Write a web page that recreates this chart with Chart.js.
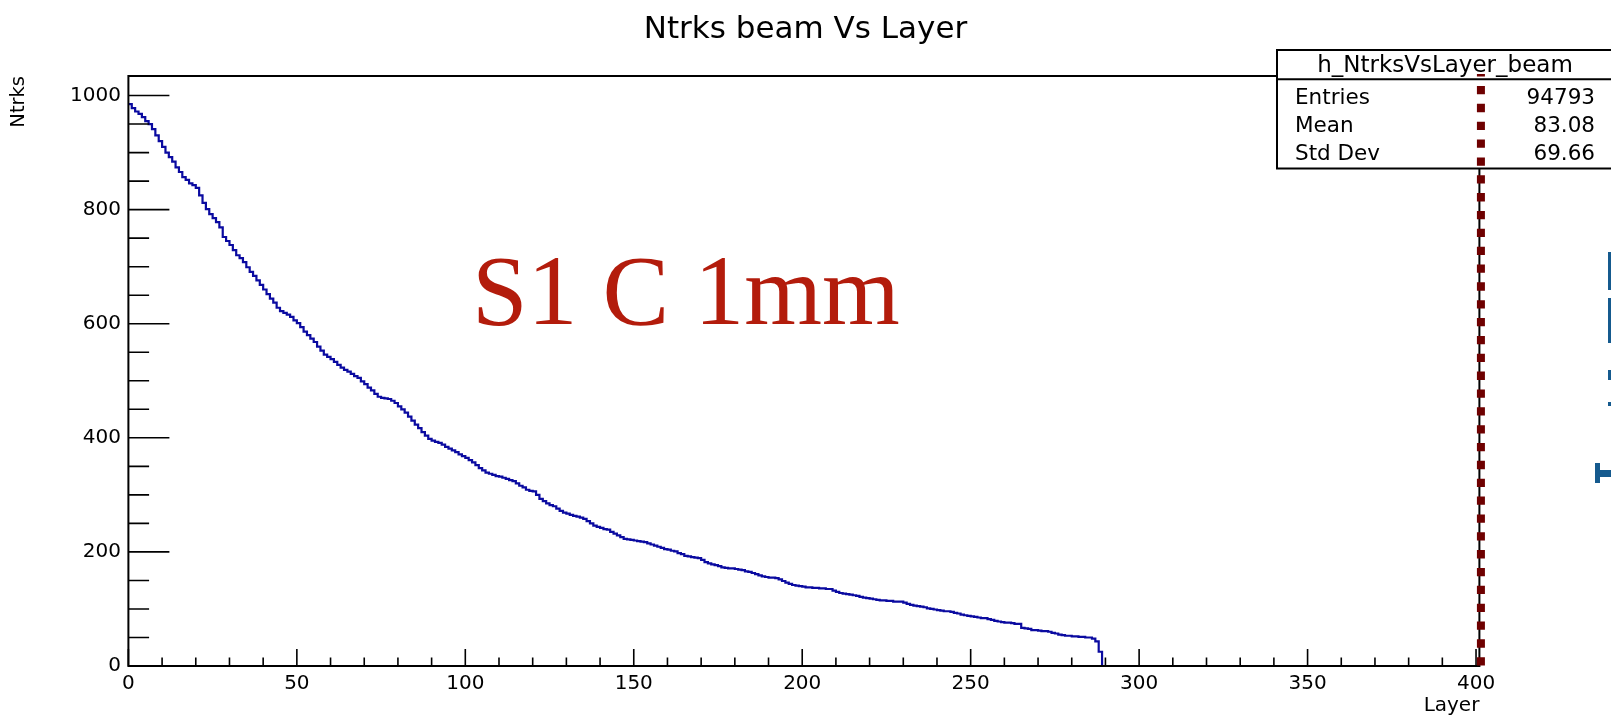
<!DOCTYPE html>
<html><head><meta charset="utf-8">
<script src="https://cdn.jsdelivr.net/npm/chart.js@4.4.0/dist/chart.umd.min.js"></script>
<style>html,body{margin:0;padding:0;background:#fff;} canvas{display:block;}</style>
</head><body>
<canvas id="c" width="1611" height="720"></canvas>
<script>
// ---- data ----
const chartTitle = 'Ntrks beam Vs Layer';
const xTitle = 'Layer';
const yTitle = 'Ntrks';
const layerRange = [0, 401];
const ntrksRange = [0, 1034.25];
const xTickValues = [0, 50, 100, 150, 200, 250, 300, 350, 400];
const yTickValues = [0, 200, 400, 600, 800, 1000];
const xMinorStep = 10, yMinorStep = 50;
// Ntrks per layer, layers 0..288 (layers 289..400 are empty)
const ntrks = [
 985,978,972,968,962,955,950,941,930,920,
 910,900,892,884,874,866,857,852,846,843,
 838,825,812,801,792,785,778,769,752,745,
 738,729,720,715,708,699,691,684,676,668,
 660,652,644,637,628,622,619,616,612,606,
 601,594,586,580,574,568,560,553,546,542,
 538,533,528,523,519,516,512,508,505,499,
 494,488,483,477,472,470,469,468,465,461,
 455,450,444,437,430,423,417,410,404,398,
 395,393,391,388,384,381,378,375,371,368,
 365,361,357,352,347,343,339,337,335,333,
 332,330,328,326,324,320,316,313,309,307,
 306,300,293,289,285,282,280,276,272,269,
 267,265,263,262,260,258,254,250,246,244,
 242,240,239,235,232,229,226,223,222,221,
 220,219,218,217,215,213,211,209,207,205,
 204,202,201,198,196,193,192,191,190,189,
 186,182,180,178,177,175,173,172,171,171,
 170,169,168,166,165,163,161,159,157,156,
 155,155,154,152,149,146,144,142,141,140,
 139,138,138,137,137,136,136,135,135,132,
 130,128,127,126,125,124,123,121,120,119,
 118,117,116,115,115,114,114,113,113,113,
 111,109,107,106,105,104,103,101,100,99,
 98,97,96,96,95,93,92,90,89,88,
 87,86,85,84,84,82,81,79,78,77,
 76,76,75,74,74,67,66,65,63,63,
 62,61,61,60,58,57,55,54,53,53,
 52,52,51,51,50,50,48,43,25
];
const statsName = 'h_NtrksVsLayer_beam';
const statsLabels = ['Entries', 'Mean', 'Std Dev'];
const statsValues = ['94793', '83.08', '69.66'];
const noteText = 'S1 C 1mm';
const markerLayer = 401.45;

// ---- build histogram outline points (bin left edges) ----
const points = ntrks.map((v, i) => ({x: layerRange[0] + i, y: v}));
points.push({x: layerRange[0] + ntrks.length, y: 0});
points.push({x: layerRange[1], y: 0});

const FONT = '"DejaVu Sans", sans-serif';

const overlay = {
  id: 'overlay',
  afterDatasetsDraw(chart) {
    const {ctx, chartArea: a, scales: {x, y}} = chart;
    ctx.save();
    // inward ticks (ROOT style)
    ctx.strokeStyle = '#000';
    ctx.lineWidth = 1.6;
    ctx.beginPath();
    for (let v = ntrksRange[0]; v <= ntrksRange[1]; v += yMinorStep) {
      const py = y.getPixelForValue(v);
      const len = yTickValues.includes(v) ? 41 : 20.7;
      ctx.moveTo(a.left, py); ctx.lineTo(a.left + len, py);
    }
    for (let v = layerRange[0]; v <= layerRange[1]; v += xMinorStep) {
      const px = x.getPixelForValue(v);
      const len = xTickValues.includes(v) ? 17 : 8.5;
      ctx.moveTo(px, a.bottom); ctx.lineTo(px, a.bottom - len);
    }
    ctx.stroke();
    // frame
    ctx.lineWidth = 2;
    ctx.strokeRect(a.left, a.top, a.right - a.left, a.bottom - a.top);
    ctx.restore();
  },
  afterDraw(chart) {
    const {ctx, chartArea: a, scales: {x, y}} = chart;
    ctx.save();
    // title (centred on the whole canvas)
    ctx.fillStyle = '#000';
    ctx.font = '31px ' + FONT;
    ctx.textAlign = 'center';
    ctx.textBaseline = 'alphabetic';
    ctx.fillText(chartTitle, chart.width / 2, 37.5);
    // stats box
    const bx = 1277, by = 50, bw = 340, bh = 118.5, sep = 79.3;
    ctx.fillStyle = '#fff';
    ctx.fillRect(bx, by, bw, bh);
    ctx.strokeStyle = '#000';
    ctx.lineWidth = 2;
    ctx.strokeRect(bx, by, bw, bh);
    ctx.beginPath(); ctx.moveTo(bx, sep); ctx.lineTo(bx + bw, sep); ctx.stroke();
    ctx.fillStyle = '#000';
    ctx.font = '23px ' + FONT;
    ctx.textAlign = 'center';
    ctx.fillText(statsName, 1445, 72);
    ctx.font = '21.5px ' + FONT;
    const baselines = [104, 132, 160];
    statsLabels.forEach((lab, i) => {
      ctx.textAlign = 'left';
      ctx.fillText(lab, 1295, baselines[i]);
      ctx.textAlign = 'right';
      ctx.fillText(statsValues[i], 1595, baselines[i]);
    });
    // dotted marker line
    const mx = x.getPixelForValue(markerLayer);
    ctx.strokeStyle = '#6e0000';
    ctx.lineWidth = 8;
    ctx.setLineDash([8.3, 9.55]);
    ctx.lineDashOffset = 5.85;
    ctx.beginPath(); ctx.moveTo(mx, 74); ctx.lineTo(mx, y.getPixelForValue(0) + 1); ctx.stroke();
    ctx.setLineDash([]);
    // annotation text
    ctx.fillStyle = '#b31c0c';
    ctx.font = '100px "Liberation Serif", serif';
    ctx.textAlign = 'left';
    ctx.fillText(noteText, 472, 323.6);
    // clipped blue fragments at right edge
    ctx.fillStyle = '#155a8e';
    ctx.fillRect(1608, 252, 4, 38);
    ctx.fillRect(1608, 298, 4, 45);
    ctx.fillRect(1608, 370, 4, 10);
    ctx.fillRect(1608, 402, 4, 4);
    ctx.fillRect(1595, 470, 17, 7);
    ctx.fillRect(1595, 463, 5, 20);
    ctx.restore();
  }
};

new Chart(document.getElementById('c'), {
  type: 'line',
  data: {
    datasets: [{
      data: points,
      stepped: true,
      borderColor: '#0a0aa0',
      borderWidth: 2.2,
      pointRadius: 0,
      fill: false
    }]
  },
  options: {
    responsive: false,
    animation: false,
    events: [],
    layout: {padding: {left: 0, right: 131.6, top: 76, bottom: 0}},
    plugins: {
      legend: {display: false},
      tooltip: {enabled: false},
      title: {display: false}
    },
    scales: {
      x: {
        type: 'linear', min: layerRange[0], max: layerRange[1],
        grid: {display: false, drawTicks: false},
        border: {display: false},
        ticks: {padding: 6, color: '#000',
                font: {family: FONT, size: 20}, maxRotation: 0, autoSkip: false,
                callback: v => String(v)},
        afterBuildTicks: s => { s.ticks = xTickValues.map(v => ({value: v})); },
        title: {display: true, text: xTitle, align: 'end', color: '#000',
                font: {family: FONT, size: 20}, padding: {top: 0, bottom: 2}},
        afterFit: s => { s.height = 54; }
      },
      y: {
        type: 'linear', min: ntrksRange[0], max: ntrksRange[1],
        grid: {display: false, drawTicks: false},
        border: {display: false},
        ticks: {padding: 7.5, color: '#000',
                font: {family: FONT, size: 20}, autoSkip: false,
                callback: v => String(v)},
        afterBuildTicks: s => { s.ticks = yTickValues.map(v => ({value: v})); },
        title: {display: true, text: yTitle, align: 'end', color: '#000',
                font: {family: FONT, size: 19.5}, padding: {top: 7, bottom: 0}},
        afterFit: s => { s.width = 128.4; }
      }
    }
  },
  plugins: [overlay]
});
</script>
</body></html>
